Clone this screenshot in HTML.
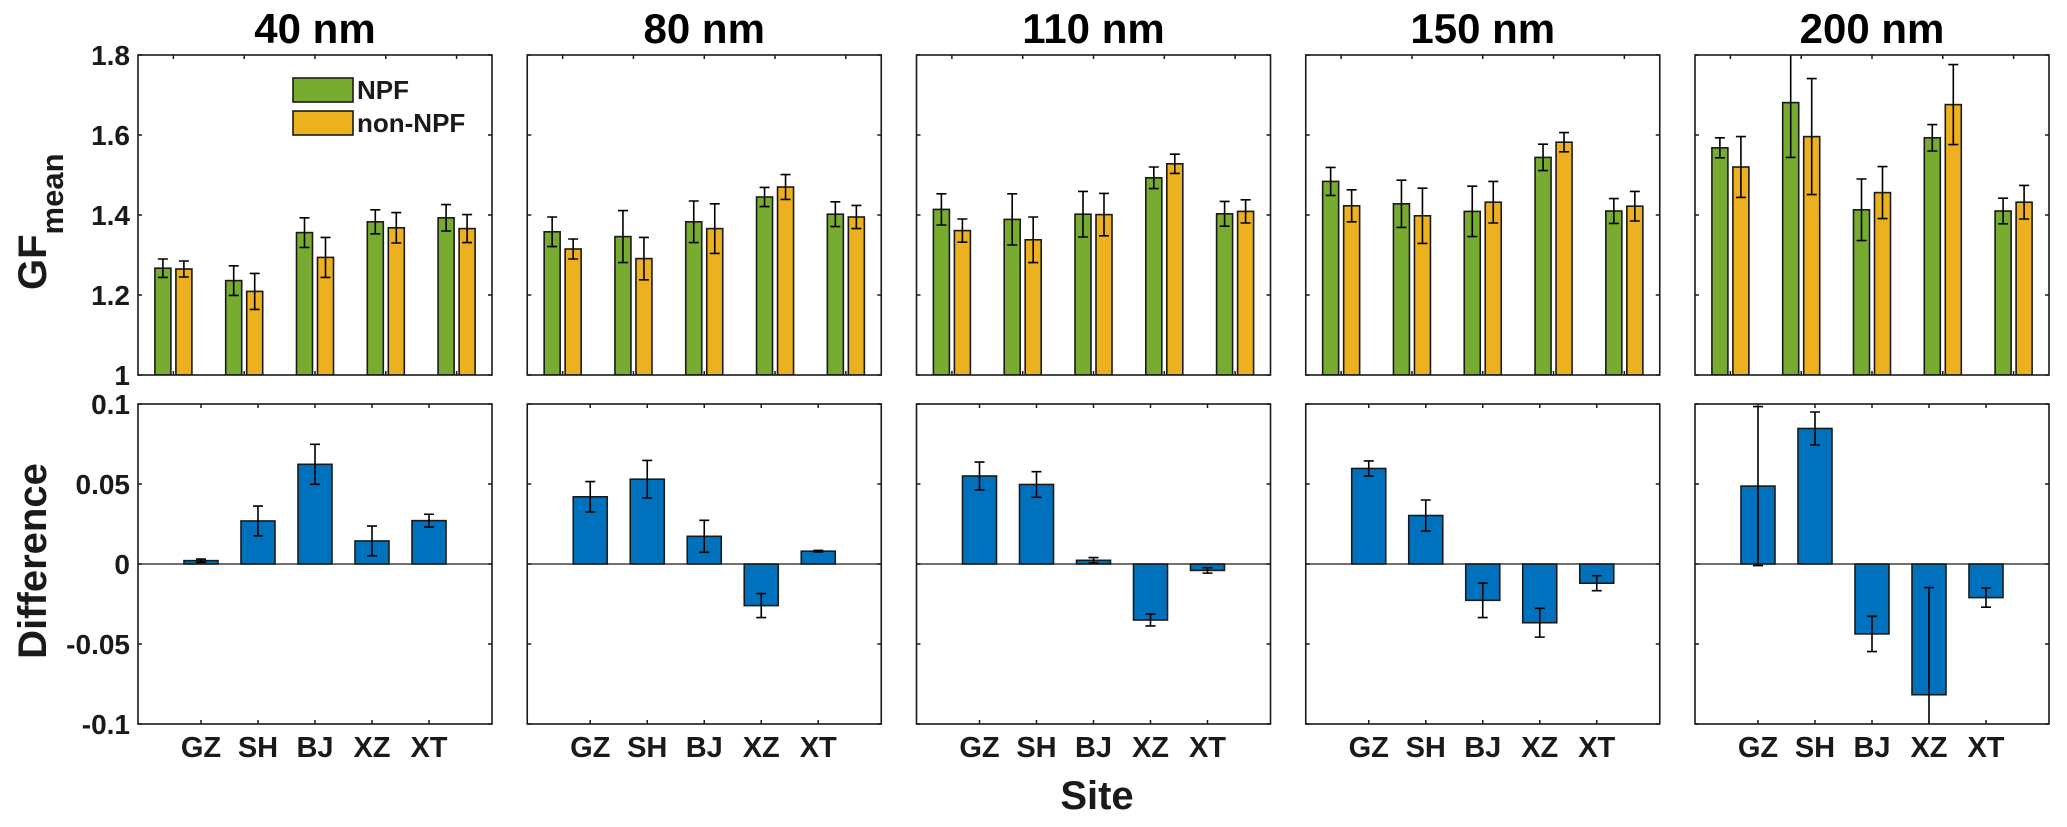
<!DOCTYPE html>
<html><head><meta charset="utf-8"><style>
html,body{margin:0;padding:0;background:#fff;}
svg{display:block;font-family:"Liberation Sans",Arial,sans-serif;font-weight:bold;}
</style></head><body>
<svg id="chart" width="2067" height="827" viewBox="0 0 2067 827" xmlns="http://www.w3.org/2000/svg"></svg>
<script>
const sizes = ["40 nm","80 nm","110 nm","150 nm","200 nm"];
const sites = ["GZ","SH","BJ","XZ","XT"];
const npfMean = [
 [1.267,1.236,1.356,1.383,1.393],
 [1.358,1.346,1.383,1.445,1.402],
 [1.414,1.389,1.402,1.493,1.403],
 [1.484,1.428,1.409,1.544,1.410],
 [1.568,1.681,1.413,1.593,1.410]];
const npfErr = [
 [0.023,0.037,0.037,0.030,0.033],
 [0.037,0.065,0.052,0.024,0.031],
 [0.039,0.064,0.057,0.027,0.031],
 [0.035,0.059,0.063,0.033,0.031],
 [0.025,0.137,0.077,0.033,0.032]];
const nonMean = [
 [1.265,1.209,1.294,1.368,1.366],
 [1.315,1.291,1.366,1.470,1.395],
 [1.361,1.338,1.401,1.528,1.409],
 [1.423,1.398,1.432,1.582,1.422],
 [1.520,1.596,1.456,1.676,1.432]];
const nonErr = [
 [0.020,0.045,0.050,0.038,0.035],
 [0.025,0.053,0.062,0.031,0.029],
 [0.029,0.057,0.053,0.024,0.029],
 [0.040,0.069,0.052,0.024,0.037],
 [0.076,0.145,0.065,0.100,0.042]];
const diffMean = [
 [0.0021,0.0269,0.0623,0.0144,0.0271],
 [0.042,0.053,0.0173,-0.026,0.008],
 [0.055,0.0497,0.0023,-0.035,-0.004],
 [0.0597,0.0303,-0.0227,-0.0367,-0.012],
 [0.0487,0.0847,-0.0437,-0.0817,-0.021]];
const diffErr = [
 [0.001,0.0093,0.0125,0.0093,0.004],
 [0.0095,0.0117,0.010,0.0075,0.0005],
 [0.0087,0.008,0.0017,0.0037,0.0017],
 [0.0047,0.0097,0.0108,0.009,0.0047],
 [0.0497,0.0103,0.011,0.067,0.006]];
const topTicks = [1,1.2,1.4,1.6,1.8];
const topTickLabels = ["1","1.2","1.4","1.6","1.8"];
const botTicks = [-0.1,-0.05,0,0.05,0.1];
const botTickLabels = ["-0.1","-0.05","0","0.05","0.1"];

const NS="http://www.w3.org/2000/svg";
const svg=document.getElementById('chart');
function mk(tag,attrs,parent){const e=document.createElementNS(NS,tag);for(const k in attrs)e.setAttribute(k,attrs[k]);(parent||svg).appendChild(e);return e;}

const L0=138,PITCH=389.25,W=354;
const TT=55,TB=375,BT=404,BB=724;
const GREEN="#77AC30",YEL="#EDB120",BLUE="#0072BD",INK="#1a1a1a";
function yTop(v){return TB-(v-1)/(0.8)*(TB-TT);}
function yBot(v){return BB-(v+0.1)/0.2*(BB-BT);}

for(let p=0;p<5;p++){
  const left=L0+p*PITCH,right=left+W;
  const xTop=i=>left+(i+1-0.5)/5*W;
  const xBot=i=>left+W/2+(i-2)*57;
  const g=mk('g',{});
  
  
  const cp=mk('clipPath',{id:'ct'+p},g);mk('rect',{x:left,y:TT,width:W,height:TB-TT},cp);
  const cb=mk('clipPath',{id:'cb'+p},g);mk('rect',{x:left,y:BT,width:W,height:BB-BT},cb);
  const t=mk('text',{x:left+W/2,y:43,'font-size':42,'text-anchor':'middle',fill:'#000'},g);
  t.textContent=sizes[p];
  
  
  const tg=mk('g',{'clip-path':'url(#ct'+p+')'},g);
  for(let i=0;i<5;i++){
    [[npfMean,npfErr,GREEN,-10.5,'npf'],[nonMean,nonErr,YEL,10.5,'non-npf']].forEach(([M,E,c,off,nm])=>{
      const cx=xTop(i)+off,v=M[p][i],e=E[p][i];
      const r=mk('rect',{x:cx-8,y:yTop(v),width:16,height:TB-yTop(v),fill:c,stroke:INK,'stroke-width':1.6},tg);
      
      
      const eb=mk('path',{d:`M${cx},${yTop(v-e)}V${yTop(v+e)}M${cx-5},${yTop(v-e)}H${cx+5}M${cx-5},${yTop(v+e)}H${cx+5}`,stroke:'#000','stroke-width':1.6,fill:'none'},tg);
      
      
    });
  }
  const bg=mk('g',{'clip-path':'url(#cb'+p+')'},g);
  for(let i=0;i<5;i++){
    const cx=xBot(i),v=diffMean[p][i],e=diffErr[p][i];
    const y0=yBot(0),y1=yBot(v);
    const r=mk('rect',{x:cx-17,y:Math.min(y0,y1),width:34,height:Math.abs(y1-y0),fill:BLUE,stroke:INK,'stroke-width':1.6},bg);
    
    
    const eb=mk('path',{d:`M${cx},${yBot(v-e)}V${yBot(v+e)}M${cx-5},${yBot(v-e)}H${cx+5}M${cx-5},${yBot(v+e)}H${cx+5}`,stroke:'#000','stroke-width':1.6,fill:'none'},bg);
    
    
  }
  mk('line',{x1:left,x2:right,y1:yBot(0),y2:yBot(0),stroke:INK,'stroke-width':1.3},g);
  mk('rect',{x:left,y:TT,width:W,height:TB-TT,fill:'none',stroke:INK,'stroke-width':1.6},g);
  mk('rect',{x:left,y:BT,width:W,height:BB-BT,fill:'none',stroke:INK,'stroke-width':1.6},g);
  let d='';
  topTicks.forEach(v=>{const y=yTop(v);d+=`M${left},${y}h4M${right},${y}h-4`;});
  botTicks.forEach(v=>{const y=yBot(v);d+=`M${left},${y}h4M${right},${y}h-4`;});
  for(let i=0;i<5;i++){const x=xTop(i);d+=`M${x},${TT}v4M${x},${TB}v-4`;const xb=xBot(i);d+=`M${xb},${BT}v4M${xb},${BB}v-4`;}
  mk('path',{d:d,stroke:INK,'stroke-width':1.5,fill:'none'},g);
  for(let i=0;i<5;i++){
    const lt=mk('text',{x:xBot(i),y:757,'font-size':29,'text-anchor':'middle',fill:INK},g);
    lt.textContent=sites[i];
    
    
  }
  if(p===0){
    topTicks.forEach((v,k)=>{const tl=mk('text',{x:left-8,y:yTop(v)+10,'font-size':28,'text-anchor':'end',fill:INK},g);tl.textContent=topTickLabels[k];
      
      });
    botTicks.forEach((v,k)=>{const tl=mk('text',{x:left-8,y:yBot(v)+10,'font-size':28,'text-anchor':'end',fill:INK},g);tl.textContent=botTickLabels[k];
      
      });
  }
}
</script>
<svg style="position:absolute;left:0;top:0" width="2067" height="827" xmlns="http://www.w3.org/2000/svg" font-family="Liberation Sans, Arial, sans-serif" font-weight="bold">
  <g>
    <rect x="293" y="78" width="60" height="24" fill="#77AC30" stroke="#1a1a1a" stroke-width="1.6"/>
    <text x="357" y="99" font-size="26" fill="#1a1a1a">NPF</text>
    <rect x="293" y="111" width="60" height="24" fill="#EDB120" stroke="#1a1a1a" stroke-width="1.6"/>
    <text x="357" y="132" font-size="26" fill="#1a1a1a">non-NPF</text>
  </g>
  <text transform="translate(46,290) rotate(-90)" font-size="40" fill="#1a1a1a">GF<tspan font-size="31" dy="17">mean</tspan></text>
  <text transform="translate(46,561) rotate(-90)" font-size="40" fill="#1a1a1a" text-anchor="middle">Difference</text>
  <text x="1097" y="809" font-size="40" text-anchor="middle" fill="#1a1a1a">Site</text>
</svg>
</body></html>
